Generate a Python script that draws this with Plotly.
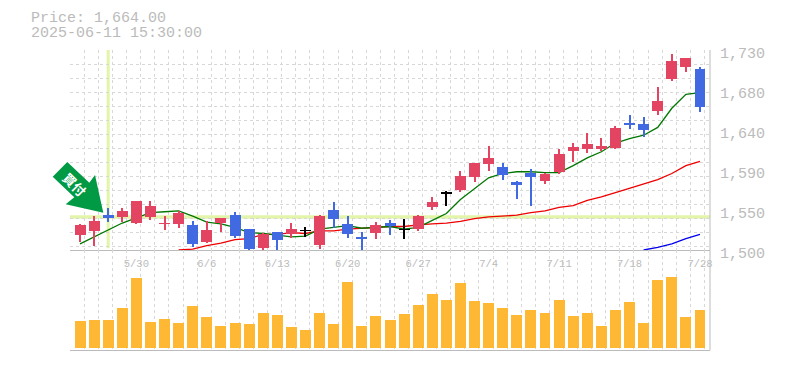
import plotly.graph_objects as go

W, H = 785, 370

# ---- data ----
opens = [1517,1522,1540,1538,1531,1538,1530,1530,1529,1509,1531,1540,1524,1502,1521,1518,1522,1506,1546,1530,1514,1520,1531,1523,1524,1549,1565,1569,1584,1599,1595,1578,1589,1579,1590,1614,1616,1616,1617,1646,1645,1660,1697,1710,1708]
closes = [1529,1533,1537,1545,1556,1551,1531,1542,1507,1523,1537,1516,1501,1518,1511,1524,1523,1539,1536,1518,1513,1529,1528,1524,1539,1555,1566,1585,1600,1606,1586,1575,1584,1587,1610,1618,1622,1620,1640,1644,1638,1671,1717,1721,1664]
highs = [1530,1539,1548,1548,1556,1556,1539,1545,1533,1533,1537,1544,1524,1520,1521,1531,1526,1540,1555,1539,1521,1532,1535,1536,1540,1561,1568,1591,1600,1620,1600,1579,1593,1589,1616,1623,1635,1629,1643,1655,1653,1687,1725,1721,1710]
lows = [1509,1505,1532,1532,1530,1534,1523,1525,1503,1508,1521,1514,1500,1499,1499,1514,1515,1501,1525,1514,1500,1513,1517,1513,1522,1546,1551,1567,1578,1591,1580,1559,1551,1576,1587,1601,1612,1614,1616,1639,1630,1655,1694,1705,1659]
candle_colors = ["red","red","blue","red","red","red","red","red","blue","red","red","blue","blue","red","blue","red","black","red","blue","blue","blue","red","blue","black","red","red","black","red","red","red","blue","blue","blue","red","red","red","red","red","red","blue","blue","red","red","red","blue"]
ma_short = [1507,1515,1523,1531,1537,1543,1544,1545,1539,1532,1530,1526,1520,1519,1517,1515,1516,1524,1526,1528,1525,1526,1527,1524,1526,1534,1542,1558,1571,1583,1588,1590,1590,1589,1589,1597,1606,1613,1623,1628,1632,1641,1663,1679,1681]
ma_mid = [None]*7 + [1500,1501,1505,1508,1512,1513,1518,1518,1520,1519,1522,1522,1524,1525,1526,1527,1527,1529,1530,1531,1533,1536,1538,1539,1540,1543,1545,1549,1551,1557,1561,1566,1571,1576,1581,1588,1597,1602]
ma_long = [None]*40 + [1500,1503,1507,1513,1518]
volumes = [27,28,28,40,70,26,29,25,42,31,22,25,24,35,33,21,18,35,24,66,22,32,28,34,43,54,48,65,47,45,40,33,38,35,48,32,35,22,38,46,25,68,71,31,38]
price_tick_vals = [1500,1546,1592,1638,1684,1730]
price_tick_text = ["1,500","1,550","1,590","1,640","1,680","1,730"]
date_tick_idx = [4,9,14,19,24,29,34,39,44]
date_tick_text = ["5/30","6/6","6/13","6/20","6/27","7/4","7/11","7/18","7/28"]
signal_idx = 2
signal_price = 1538
title_lines = ["Price: 1,664.00", "2025-06-11 15:30:00"]
signal_label = "買付"

# ---- style ----
GREY = "#bbbbbb"
GRID = "#d8d8d8"
MONO = "Liberation Mono"
COLORS = {"red": "#e24462", "blue": "#4169e1", "black": "#000000"}
HILITE = "#e3f5a8"
VOL = "#ffb833"

idx = list(range(len(opens)))
XR = [-0.71, 44.71]
px = lambda v: v / W
py = lambda v: 1 - v / H
x_dom = [px(70), px(710)]
grid_x = [k - 0.71 + 0.02 for k in range(46)]
grid_y = [1730 - 16.1 * k for k in range(15)]

fig = go.Figure()

for vals, col in ((ma_long, "#0000ee"), (ma_mid, "#ee0000"), (ma_short, "#007700")):
    fig.add_trace(go.Scatter(x=idx, y=vals, mode="lines", line=dict(color=col, width=1.3),
                             xaxis="x", yaxis="y", hoverinfo="skip"))

for name, col in COLORS.items():
    sel = [i for i in idx if candle_colors[i] == name]
    fig.add_trace(go.Bar(x=sel, base=[lows[i] for i in sel], y=[highs[i] - lows[i] for i in sel],
                         width=0.071, marker=dict(color=col, line=dict(width=0)),
                         xaxis="x", yaxis="y4", hoverinfo="skip"))
    fig.add_trace(go.Bar(x=sel, base=[opens[i] for i in sel], y=[closes[i] - opens[i] for i in sel],
                         width=0.78, marker=dict(color=col, line=dict(width=0)),
                         xaxis="x", yaxis="y4", hoverinfo="skip"))

fig.add_trace(go.Bar(x=idx, y=volumes, width=0.78, marker=dict(color=VOL, line=dict(width=0)),
                     xaxis="x2", yaxis="y2", hoverinfo="skip"))
fig.add_trace(go.Scatter(x=[None], y=[None], xaxis="x3", yaxis="y3", hoverinfo="skip"))

grid_axis = dict(range=XR, domain=x_dom, tickmode="array", tickvals=grid_x, ticktext=[""] * len(grid_x),
                 showgrid=True, gridcolor=GRID, griddash="3px,3px", gridwidth=1, zeroline=False,
                 ticks="", showline=True, linecolor=GREY, linewidth=1, fixedrange=True, automargin=False)

shapes = [
    dict(type="line", xref="x", yref="y", x0=XR[0], x1=XR[1], y0=signal_price, y1=signal_price,
         line=dict(color=HILITE, width=3.5), layer="below"),
    dict(type="line", xref="x", yref="y", x0=signal_idx, x1=signal_idx, y0=1502, y1=1730,
         line=dict(color=HILITE, width=3), layer="below"),
    dict(type="line", xref="paper", yref="paper", x0=px(710), x1=px(710), y0=py(50), y1=py(350),
         line=dict(color=GREY, width=1)),
]
arrow_pts = [(67.3, 162), (89.3, 182.7), (95, 175), (103.3, 212.7), (65.7, 204.3), (74.3, 197.3), (52.7, 176.7)]
shapes.append(dict(type="path", xref="paper", yref="paper", fillcolor="#009944", line=dict(width=0),
                   path="M " + " L ".join(f"{px(a):.5f},{py(b):.5f}" for a, b in arrow_pts) + " Z"))

annots = [
    dict(text=title_lines[0], x=px(28.5), y=py(18.5), xref="paper", yref="paper", xanchor="left", yanchor="middle",
         showarrow=False, font=dict(family=MONO, size=15, color=GREY)),
    dict(text=title_lines[1], x=px(28.5), y=py(33.5), xref="paper", yref="paper", xanchor="left", yanchor="middle",
         showarrow=False, font=dict(family=MONO, size=15, color=GREY)),
    dict(text="<b>" + signal_label + "</b>", x=px(75), y=py(184), xref="paper", yref="paper", xanchor="center",
         yanchor="middle", showarrow=False, textangle=45,
         font=dict(family="Noto Sans CJK JP", size=13, color="#ffffff")),
]

fig.update_layout(
    width=W, height=H, margin=dict(l=0, r=0, t=0, b=0, pad=0, autoexpand=False), autosize=False,
    paper_bgcolor="#ffffff", plot_bgcolor="rgba(0,0,0,0)",
    showlegend=False, barmode="overlay", bargap=0, hovermode=False,
    shapes=shapes, annotations=annots,
    xaxis=dict(grid_axis, anchor="y"),
    xaxis2=dict(grid_axis, anchor="y2"),
    xaxis3=dict(range=XR, domain=x_dom, anchor="y3", tickmode="array", tickvals=date_tick_idx,
                ticktext=date_tick_text, showgrid=False, zeroline=False, showline=False, ticks="",
                ticklabelstandoff=2, tickangle=0, tickfont=dict(family=MONO, size=10.5, color=GREY), automargin=False),
    yaxis=dict(domain=[py(250), py(50)], range=[1500, 1730], anchor="x", tickmode="array", tickvals=grid_y,
               showticklabels=False, showgrid=True, gridcolor=GRID, griddash="3px,3px", gridwidth=1,
               zeroline=False, ticks="", showline=False, automargin=False),
    yaxis4=dict(overlaying="y", range=[1500, 1730], visible=False),
    yaxis2=dict(domain=[py(350), py(250)], range=[-2, 98], anchor="x2", showgrid=False, zeroline=False,
                showticklabels=False, ticks="", automargin=False),
    yaxis3=dict(domain=[py(253), py(53)], range=[1500, 1730], anchor="x3", side="right", tickmode="array",
                tickvals=price_tick_vals, ticktext=price_tick_text, showgrid=False, zeroline=False,
                showline=False, ticks="", ticklabelstandoff=9, automargin=False,
                tickfont=dict(family=MONO, size=15, color=GREY)),
)

fig.write_html("out.html", config={"displayModeBar": False}, post_script="document.body.style.margin='0';")
